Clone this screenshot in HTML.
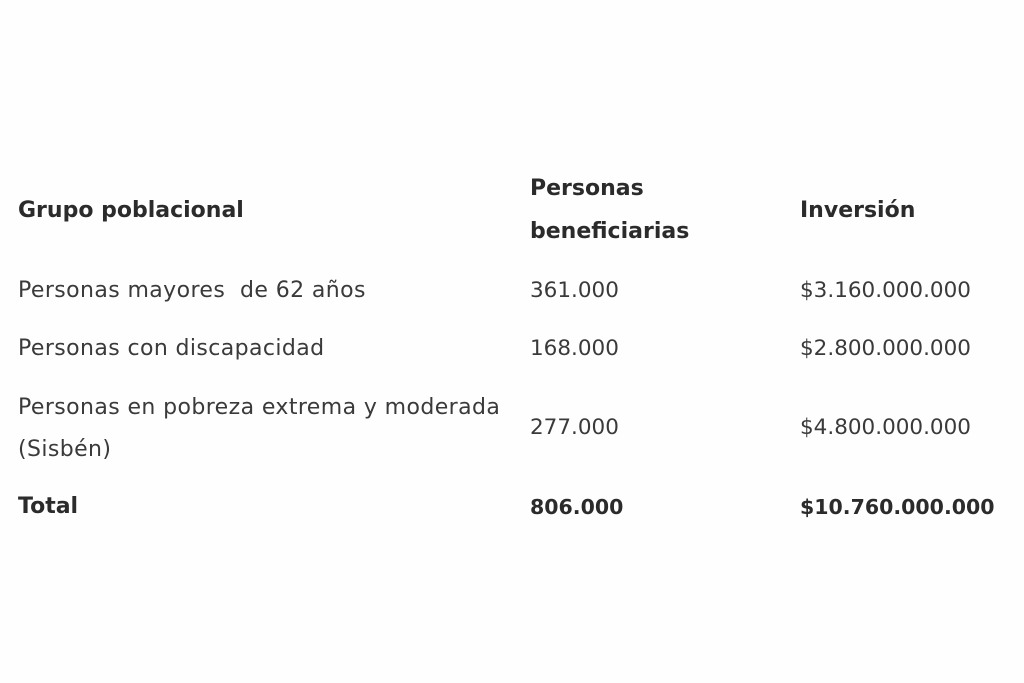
<!DOCTYPE html>
<html><head><meta charset="utf-8"><style>
html,body{margin:0;padding:0;}
body{width:1024px;height:683px;background:#fefefe;position:relative;overflow:hidden;font-family:"DejaVu Sans","Liberation Sans",sans-serif;color:#3a3a3a;}
.t{position:absolute;white-space:nowrap;font-size:22px;line-height:26px;transform:translateY(-50%);}
.w{letter-spacing:0.4px;}
.b{font-weight:bold;color:#2b2b2b;font-size:22px;}
.n{font-size:21.5px;}
.bn{font-size:20.5px;}
</style></head><body>
<div class="t b" style="left:18px;top:211px">Grupo poblacional</div>
<div class="t b" style="left:530px;top:189px">Personas</div>
<div class="t b" style="left:530px;top:232px">beneficiarias</div>
<div class="t b" style="left:800px;top:211px">Inversión</div>

<div class="t w" style="left:18px;top:291px">Personas mayores&nbsp; de 62 años</div>
<div class="t n" style="left:530px;top:291px">361.000</div>
<div class="t n" style="left:800px;top:291px">$3.160.000.000</div>

<div class="t w" style="left:18px;top:349px">Personas con discapacidad</div>
<div class="t n" style="left:530px;top:349px">168.000</div>
<div class="t n" style="left:800px;top:349px">$2.800.000.000</div>

<div class="t w" style="left:18px;top:408px">Personas en pobreza extrema y moderada</div>
<div class="t w" style="left:18px;top:450px">(Sisbén)</div>
<div class="t n" style="left:530px;top:428px">277.000</div>
<div class="t n" style="left:800px;top:428px">$4.800.000.000</div>

<div class="t b" style="left:18px;top:507px">Total</div>
<div class="t b bn" style="left:530px;top:507px">806.000</div>
<div class="t b bn" style="left:800px;top:507px">$10.760.000.000</div>
</body></html>
